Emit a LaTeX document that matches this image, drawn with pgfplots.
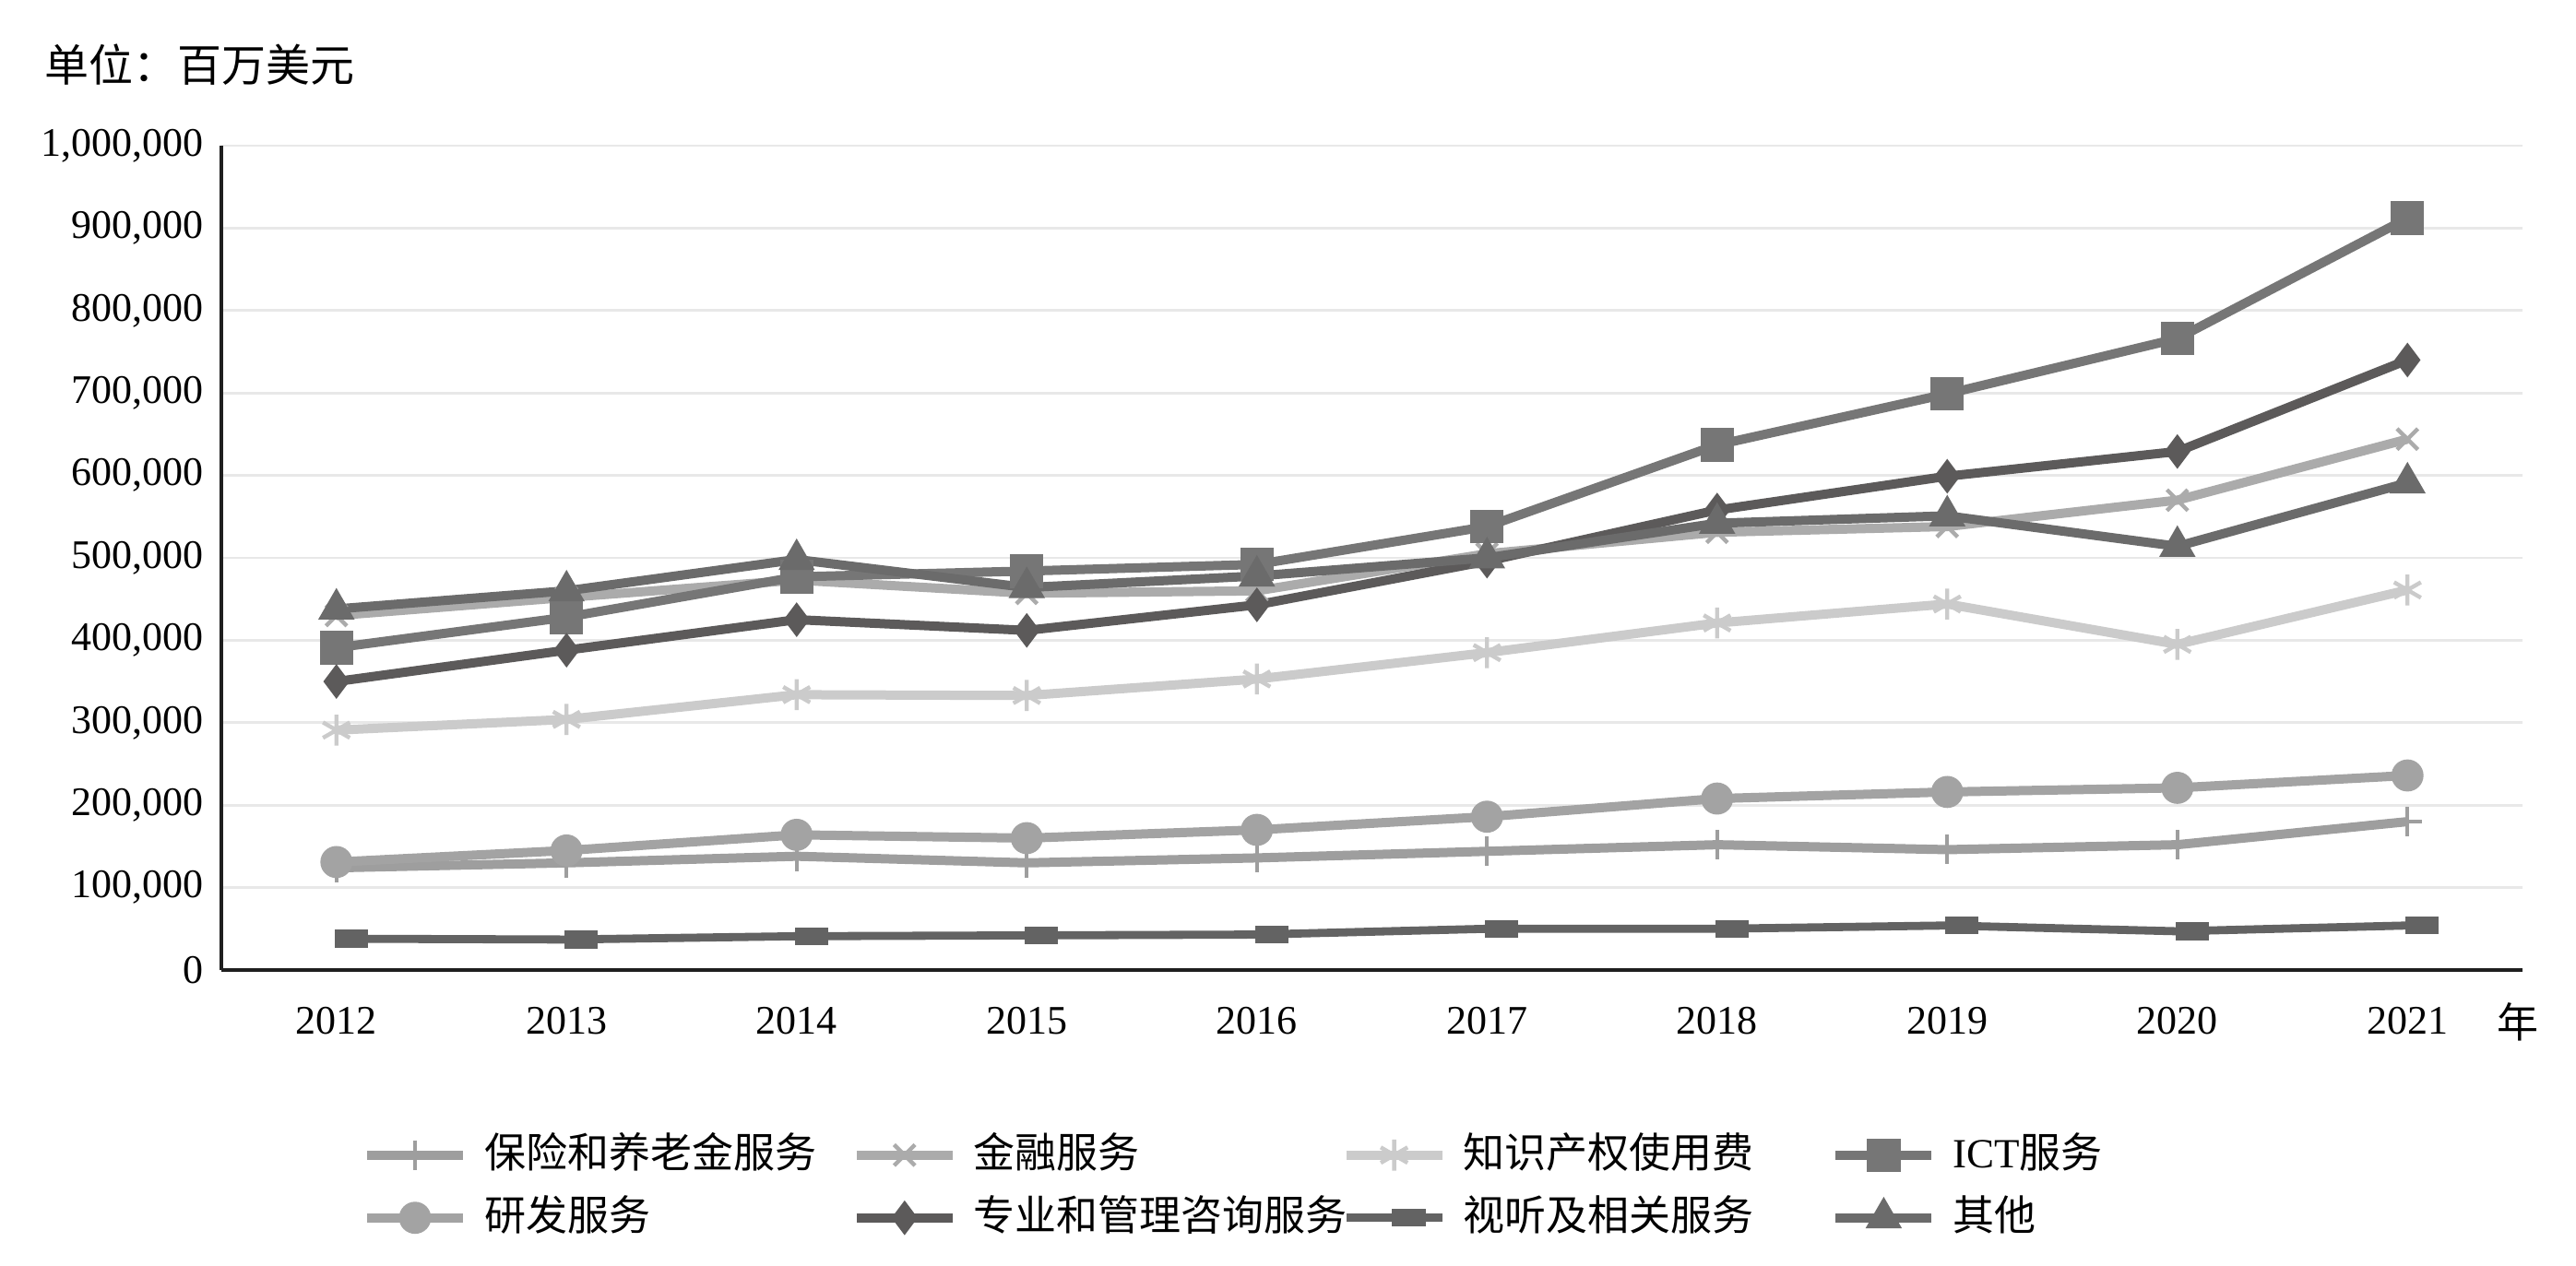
\documentclass[border=0pt]{standalone}
\usepackage{fontspec}
\setmainfont{Liberation Serif}
\newfontfamily\cjk{Noto Sans CJK SC}
\usepackage{pgfplots}
\pgfplotsset{compat=1.18}
\definecolor{cIns}{HTML}{9E9E9E}
\definecolor{cFin}{HTML}{ABABAB}
\definecolor{cIP}{HTML}{CBCBCB}
\definecolor{cICT}{HTML}{767676}
\definecolor{cRD}{HTML}{A3A3A3}
\definecolor{cPro}{HTML}{5C5A5A}
\definecolor{cAV}{HTML}{636363}
\definecolor{cOth}{HTML}{6B6B6B}
\definecolor{cGrid}{HTML}{E8E8E8}
\begin{document}
\begin{tikzpicture}
\useasboundingbox (0pt,0pt) rectangle (698.25pt,343pt);
\node[anchor=west, inner sep=0pt, font=\fontsize{12}{14}\selectfont\cjk] at (12pt,325.5pt) {单位：百万美元};
\begin{axis}[
  at={(60pt,80pt)}, anchor=south west,
  scale only axis, width=623.75pt, height=223.5pt,
  xmin=-0.5, xmax=9.5, ymin=0, ymax=1000000,
  xtick={0,1,2,3,4,5,6,7,8,9},
  xticklabels={2012,2013,2014,2015,2016,2017,2018,2019,2020,2021},
  ytick={0,100000,200000,300000,400000,500000,600000,700000,800000,900000,1000000},
  scaled y ticks=false,
  yticklabel={\pgfmathprintnumber[fixed,1000 sep={,},assume math mode=true]{\tick}},
  tick label style={font=\fontsize{11}{13}\selectfont},
  yticklabel style={xshift=-1.3pt},
  xticklabel style={yshift=-6.5pt},
  major tick length=0pt,
  axis x line*=bottom, axis y line*=left,
  axis line style={line width=1.2pt, color=black!88, -},
  ymajorgrids, grid style={line width=0.7pt, color=cGrid},
  every axis plot/.append style={line width=2.5pt},
  legend columns=4,
  legend cell align=left,
  legend image code/.code={\draw[mark repeat=2,mark phase=2,#1] plot coordinates {(0pt,0pt) (13pt,0pt) (26pt,0pt)};},
  legend style={at={(0.061,-0.199)}, anchor=north west, draw=none, fill=none,
    inner sep=0pt, row sep=6pt, column sep=0pt,
    font=\fontsize{11.25}{13}\selectfont,
    nodes={inner sep=0pt, text height=9pt, text depth=2pt},
    /tikz/every odd column/.append style={column sep=4.5pt}},
]
\addplot[color=cIns, mark=+, mark size=4pt, mark options={solid, line width=1.1pt}]
 coordinates {(0,124000) (1,130000) (2,138000) (3,130000) (4,136000) (5,144000) (6,152000) (7,146000) (8,152000) (9,180000)};
\addlegendentry{\makebox[99.7pt][l]{\cjk 保险和养老金服务}}
\addplot[color=cFin, mark=x, mark size=4pt, mark options={solid, line width=1.1pt}]
 coordinates {(0,430000) (1,452000) (2,473000) (3,457000) (4,460000) (5,505000) (6,531000) (7,538000) (8,570000) (9,644000)};
\addlegendentry{\makebox[99.7pt][l]{\cjk 金融服务}}
\addplot[color=cIP, mark=asterisk, mark size=4.2pt, mark options={solid, line width=1.1pt}]
 coordinates {(0,291000) (1,304000) (2,334000) (3,333000) (4,353000) (5,385000) (6,421000) (7,444000) (8,395000) (9,461000)};
\addlegendentry{\makebox[99.7pt][l]{\cjk 知识产权使用费}}
\addplot[color=cICT, mark=square*, mark size=4.3pt, mark options={solid, fill=cICT, line width=0.5pt}]
 coordinates {(0,391000) (1,428000) (2,477000) (3,484000) (4,492000) (5,538000) (6,637000) (7,699000) (8,766000) (9,912000)};
\addlegendentry{ICT{\cjk 服务}}
\addplot[color=cRD, mark=*, mark size=4.1pt, mark options={solid, fill=cRD, line width=0.5pt}]
 coordinates {(0,131000) (1,145000) (2,164000) (3,160000) (4,170000) (5,186000) (6,208000) (7,216000) (8,221000) (9,236000)};
\addlegendentry{\makebox[99.7pt][l]{\cjk 研发服务}}
\addplot[color=cPro, mark=diamond*, mark size=4.3pt, mark options={solid, fill=cPro, line width=0.5pt}]
 coordinates {(0,350000) (1,388000) (2,425000) (3,412000) (4,443000) (5,496000) (6,558000) (7,599000) (8,629000) (9,740000)};
\addlegendentry{\makebox[99.7pt][l]{\cjk 专业和管理咨询服务}}
\addplot[color=cAV, line width=2.2pt, mark=square*, mark size=4.3pt, mark options={solid, fill=cAV, line width=0.5pt, xshift=4pt, yscale=0.5}]
 coordinates {(0,38000) (1,37000) (2,41000) (3,42000) (4,43000) (5,50000) (6,50000) (7,54000) (8,47000) (9,54000)};
\addlegendentry{\makebox[99.7pt][l]{\cjk 视听及相关服务}}
\addplot[color=cOth, mark=triangle*, mark size=5.2pt, mark options={solid, fill=cOth, line width=0.5pt}]
 coordinates {(0,438000) (1,460000) (2,498000) (3,464000) (4,478000) (5,500000) (6,542000) (7,551000) (8,514000) (9,591000)};
\addlegendentry{{\cjk 其他}}
\end{axis}
\node[font=\fontsize{11.25}{13}\selectfont\cjk, inner sep=0pt] at (682.5pt,66pt) {年};
\end{tikzpicture}
\end{document}
